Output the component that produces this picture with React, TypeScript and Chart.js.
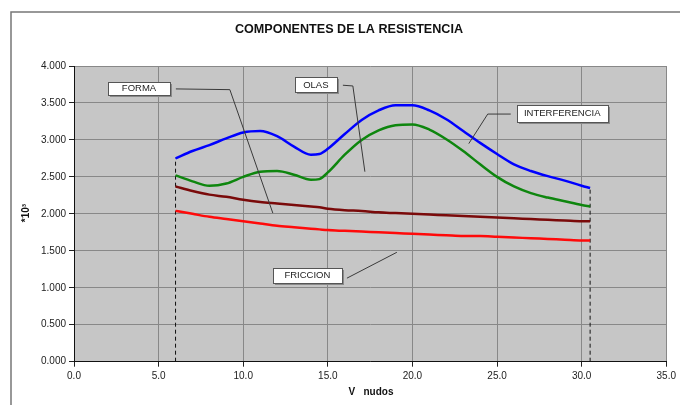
import React, { useEffect, useRef } from 'react';
import { Chart, registerables } from 'chart.js';

Chart.register(...registerables);

// ---- data ----
const chartTitle = 'COMPONENTES DE LA RESISTENCIA';
const xAxisTitle = 'V   nudos';
const yAxisTitle = '*10³';

const speeds = [6, 7, 8, 9, 10, 11, 12, 13, 14, 14.5, 15, 16, 17, 18, 19, 20, 21, 22, 23, 24, 25, 26, 27, 28, 29, 30, 30.5];

// cumulative curves
const friccion = [2.04, 2.0, 1.96, 1.93, 1.9, 1.87, 1.84, 1.82, 1.8, 1.79, 1.78, 1.77, 1.76, 1.75, 1.74, 1.73, 1.72, 1.71, 1.7, 1.7, 1.69, 1.68, 1.67, 1.66, 1.65, 1.64, 1.64];
const forma = [2.37, 2.31, 2.26, 2.23, 2.19, 2.16, 2.14, 2.12, 2.1, 2.09, 2.07, 2.05, 2.04, 2.02, 2.01, 2.0, 1.99, 1.98, 1.97, 1.96, 1.95, 1.94, 1.93, 1.92, 1.91, 1.9, 1.9];
const olas = [2.52, 2.44, 2.38, 2.41, 2.5, 2.57, 2.58, 2.53, 2.46, 2.47, 2.56, 2.8, 3.0, 3.13, 3.2, 3.21, 3.14, 3.01, 2.85, 2.67, 2.5, 2.37, 2.28, 2.22, 2.17, 2.12, 2.1];
const interferencia = [2.75, 2.85, 2.93, 3.02, 3.1, 3.12, 3.05, 2.91, 2.8, 2.81, 2.88, 3.08, 3.27, 3.4, 3.47, 3.47, 3.4, 3.28, 3.12, 2.96, 2.81, 2.67, 2.58, 2.51, 2.45, 2.38, 2.35];

const xTicksMax = 35;
const yTicksMax = 4;

// annotation labels: text, box centre and leader path in data units
const labelTexts = ['FORMA', 'OLAS', 'INTERFERENCIA', 'FRICCION'];
const labelBoxX = [3.84, 14.29, 28.85, 13.79];
const labelBoxY = [3.7, 3.75, 3.36, 1.17];
const labelPathX = [[6.02, 9.21, 11.75], [15.89, 16.48, 17.19], [25.81, 24.45, 23.33], [16.13, 19.08]];
const labelPathY = [[3.69, 3.68, 2.01], [3.74, 3.73, 2.57], [3.35, 3.35, 2.95], [1.13, 1.48]];

const FONT = "'Liberation Sans', Arial, sans-serif";

const pts = (ys: number[]) => speeds.map((x, i) => ({ x, y: ys[i] }));

export default function App() {
  const ref = useRef<HTMLCanvasElement | null>(null);

  useEffect(() => {
    if (!ref.current) return;
    const boxW = [62, 42, 91, 69];
    const boxH = [13, 15, 17, 15];

    const decor = {
      id: 'decor',
      beforeDraw(chart: any) {
        const { ctx, chartArea: a } = chart;
        ctx.save();
        ctx.fillStyle = '#ffffff';
        ctx.fillRect(0, 0, chart.width, chart.height);
        ctx.fillStyle = '#c6c6c6';
        ctx.fillRect(a.left, a.top, a.right - a.left, a.bottom - a.top);
        ctx.strokeStyle = '#777';
        ctx.lineWidth = 1.5;
        ctx.strokeRect(11, 12, 720, 440);
        ctx.restore();
      },
      afterDatasetsDraw(chart: any) {
        const { ctx, scales } = chart;
        const xs = scales.x, ys = scales.y;
        ctx.save();
        // leader lines
        ctx.strokeStyle = '#3a3a3a';
        ctx.lineWidth = 1;
        labelTexts.forEach((_, i) => {
          ctx.beginPath();
          labelPathX[i].forEach((vx, j) => {
            const px = xs.getPixelForValue(vx);
            const py = ys.getPixelForValue(labelPathY[i][j]);
            if (j === 0) ctx.moveTo(px, py); else ctx.lineTo(px, py);
          });
          ctx.stroke();
        });
        // boxes
        ctx.font = `9.5px ${FONT}`;
        ctx.textAlign = 'center';
        ctx.textBaseline = 'middle';
        labelTexts.forEach((t, i) => {
          const cx = xs.getPixelForValue(labelBoxX[i]);
          const cy = ys.getPixelForValue(labelBoxY[i]);
          const w = boxW[i], h = boxH[i];
          const l = Math.round(cx - w / 2) + 0.5, tp = Math.round(cy - h / 2) + 0.5;
          ctx.fillStyle = '#8a8a8a';
          ctx.fillRect(l + 1.5, tp + 1.5, w, h);
          ctx.fillStyle = '#ffffff';
          ctx.fillRect(l, tp, w, h);
          ctx.strokeStyle = '#555';
          ctx.strokeRect(l, tp, w, h);
          ctx.fillStyle = '#222';
          ctx.fillText(t, cx, cy + 0.5);
        });
        ctx.restore();
      },
      afterDraw(chart: any) {
        const { ctx } = chart;
        ctx.save();
        ctx.fillStyle = '#111';
        ctx.textAlign = 'center';
        ctx.textBaseline = 'middle';
        ctx.font = `bold 12.6px ${FONT}`;
        ctx.fillText(chartTitle, 349, 30);
        ctx.font = `bold 10px ${FONT}`;
        ctx.fillText(xAxisTitle, 371, 392);
        ctx.translate(26, 213);
        ctx.rotate(-Math.PI / 2);
        ctx.fillText(yAxisTitle, 0, 0);
        ctx.restore();
      },
    };

    const line = (data: number[], color: string) => ({
      data: pts(data),
      borderColor: color,
      borderWidth: 2.5,
      pointRadius: 0,
      cubicInterpolationMode: 'monotone' as const,
      fill: false,
    });

    const first = 0, last = speeds.length - 1;
    const dropLine = (i: number) => ({
      data: [{ x: speeds[i], y: 0 }, { x: speeds[i], y: interferencia[i] }],
      borderColor: '#111',
      borderWidth: 1,
      borderDash: [4, 3],
      pointRadius: 0,
      fill: false,
    });

    const chart = new Chart(ref.current, {
      type: 'line',
      data: {
        datasets: [
          { label: 'Interferencia', ...line(interferencia, '#0000ff') },
          { label: 'Olas', ...line(olas, '#0e860e') },
          { label: 'Forma', ...line(forma, '#7a0a0a') },
          { label: 'Fricción', ...line(friccion, '#ff0a0a') },
          { label: 'v min', ...dropLine(first) },
          { label: 'v max', ...dropLine(last) },
        ] as any,
      },
      options: {
        animation: false,
        responsive: false,
        devicePixelRatio: 1,
        layout: { padding: { top: 66, right: 13, left: 0, bottom: 0 } },
        plugins: { legend: { display: false }, tooltip: { enabled: false }, title: { display: false } },
        scales: {
          x: {
            type: 'linear',
            min: 0,
            max: xTicksMax,
            afterFit: (s: any) => { s.height = 43.3; },
            ticks: {
              stepSize: 5,
              callback: (v: any) => Number(v).toFixed(1),
              font: { family: FONT, size: 10 },
              color: '#222',
              padding: 4,
              maxRotation: 0,
            },
            grid: { color: '#888', lineWidth: 1, tickLength: 5, tickColor: '#222' },
            border: { color: '#111', width: 1 },
          },
          y: {
            type: 'linear',
            min: 0,
            max: yTicksMax,
            afterFit: (s: any) => { s.width = 74; },
            ticks: {
              stepSize: 0.5,
              callback: (v: any) => Number(v).toFixed(3),
              font: { family: FONT, size: 10 },
              color: '#222',
              padding: 3,
            },
            grid: { color: '#888', lineWidth: 1, tickLength: 5, tickColor: '#222' },
            border: { color: '#111', width: 1 },
          },
        },
      },
      plugins: [decor],
    });
    return () => chart.destroy();
  }, []);

  return (
    <div style={{ position: 'fixed', left: 0, top: 0, width: 680, height: 405 }}>
      <canvas ref={ref} width={680} height={405} style={{ width: 680, height: 405, display: 'block' }} />
    </div>
  );
}
